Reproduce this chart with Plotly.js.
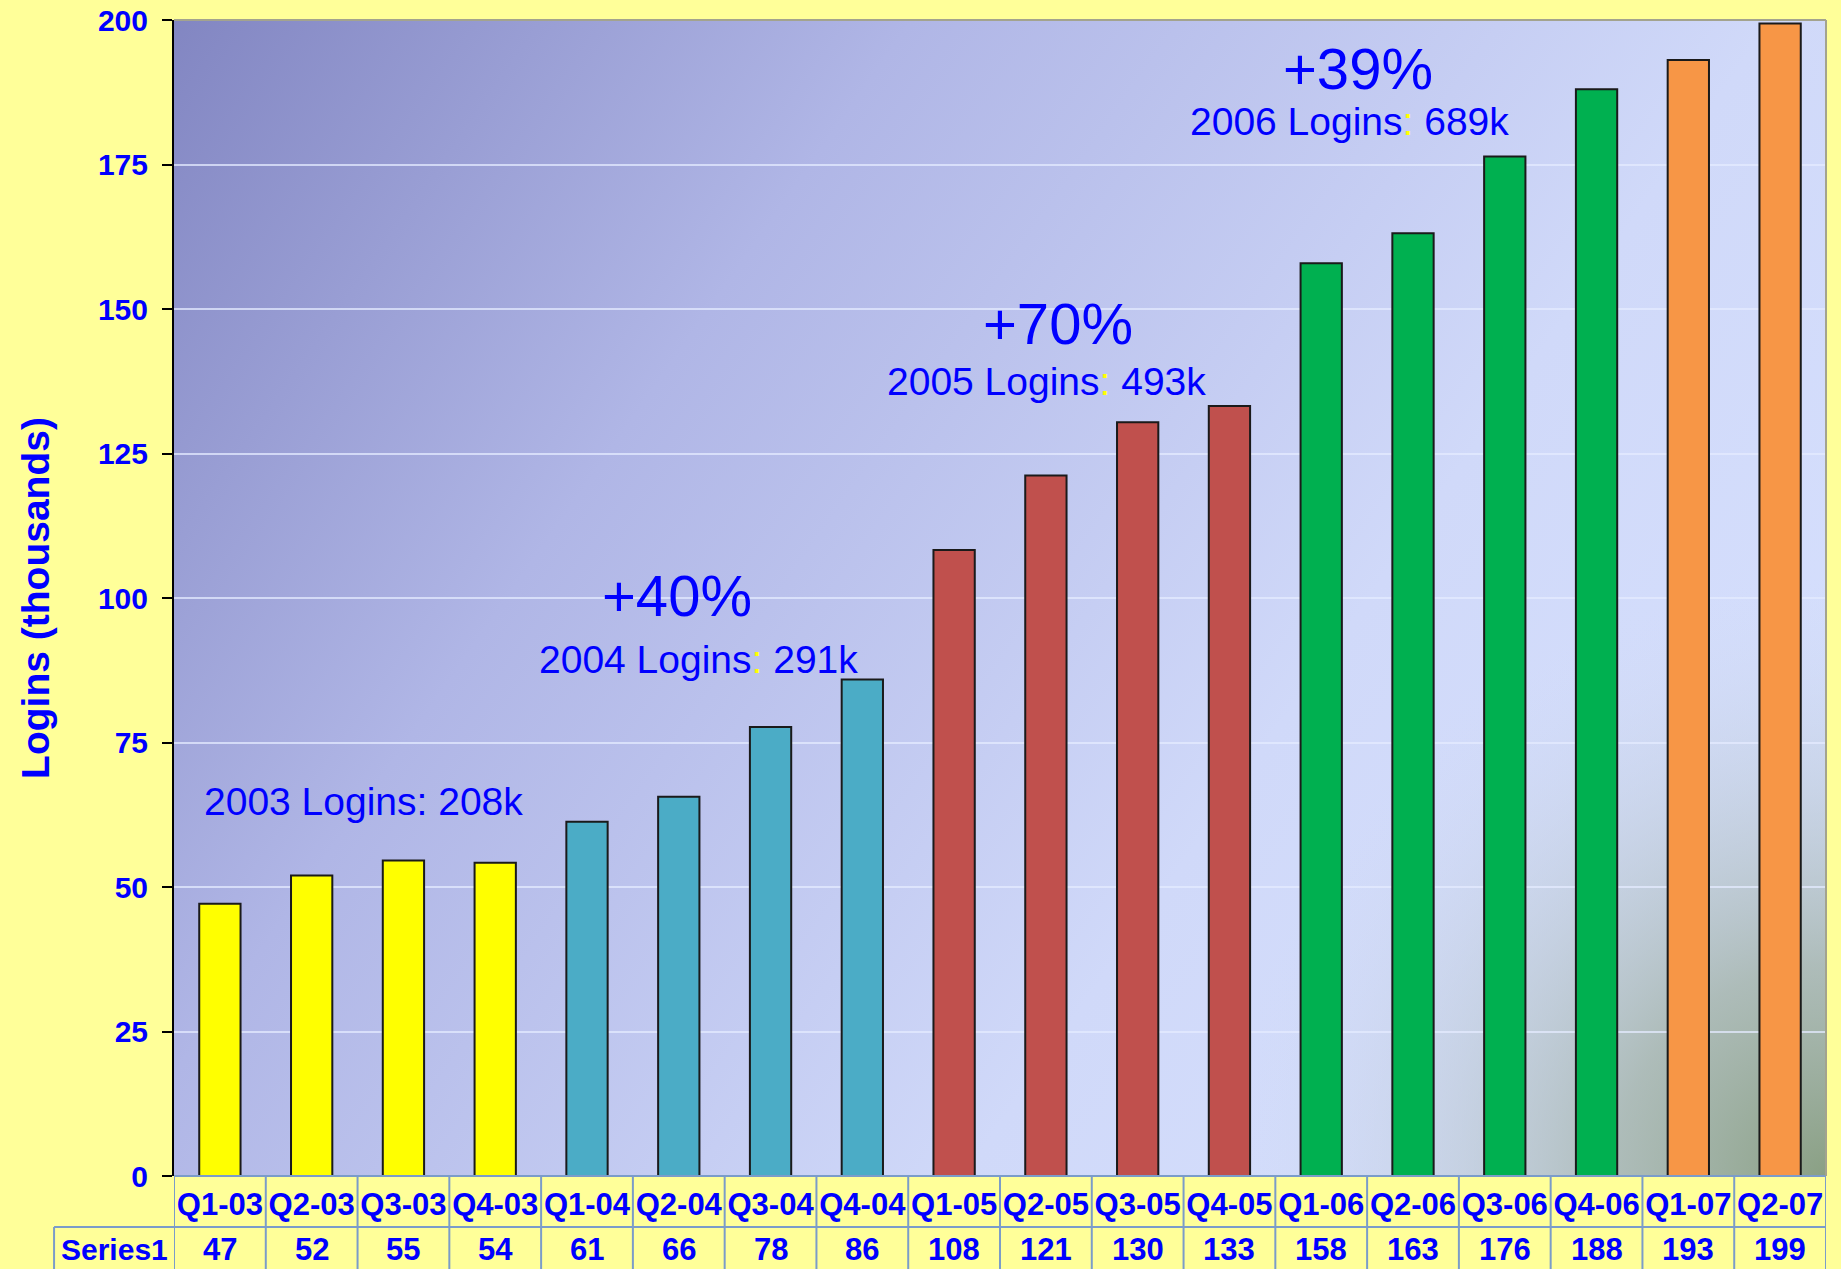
<!DOCTYPE html>
<html>
<head>
<meta charset="utf-8">
<script src="https://cdn.plot.ly/plotly-3.0.1.min.js"></script>
<style>
  html, body { margin: 0; padding: 0; background: #FFFF99; }
  #chart { width: 1841px; height: 1269px; }
</style>
</head>
<body>
<div id="chart"></div>
<script>
// ---------------- DATA ----------------
const categories = ['Q1-03','Q2-03','Q3-03','Q4-03','Q1-04','Q2-04','Q3-04','Q4-04',
                    'Q1-05','Q2-05','Q3-05','Q4-05','Q1-06','Q2-06','Q3-06','Q4-06',
                    'Q1-07','Q2-07'];
const logins = [47.1, 52.0, 54.6, 54.2, 61.3, 65.6, 77.7, 85.9,
                108.3, 121.2, 130.4, 133.2, 157.9, 163.1, 176.4, 188.0,
                193.1, 199.4];
const tableValues = [47, 52, 55, 54, 61, 66, 78, 86, 108, 121, 130, 133, 158, 163, 176, 188, 193, 199];
const barYears = ['2003','2003','2003','2003','2004','2004','2004','2004',
                  '2005','2005','2005','2005','2006','2006','2006','2006',
                  '2007','2007'];
const seriesName = 'Series1';
const noteYears = ['2003', '2004', '2005', '2006'];
const noteTotals = ['208k', '291k', '493k', '689k'];
const noteGrowth = [null, '+40%', '+70%', '+39%'];
const yTicks = [0, 25, 50, 75, 100, 125, 150, 175, 200];

// ---------------- STYLE ----------------
const yearColors = { '2003': '#FFFF00', '2004': '#4BACC6', '2005': '#C0504D', '2006': '#00B050', '2007': '#F79646' };
const FONT = 'Liberation Sans, Arial, sans-serif';
const BLUE = '#0000FF';
const BORDER = '#7B9CC9';

function makeBg() {
  const W = 1652, H = 1156;
  const c = document.createElement('canvas');
  c.width = W; c.height = H;
  const g = c.getContext('2d');
  const lin = g.createLinearGradient(0, 0, W, H);
  lin.addColorStop(0, '#8286C2');
  lin.addColorStop(0.3, '#B0B6E6');
  lin.addColorStop(0.65, '#D0D9F9');
  lin.addColorStop(1, '#D8E2FF');
  g.fillStyle = lin;
  g.fillRect(0, 0, W, H);
  const rad = g.createRadialGradient(W, H, 0, W, H, 600);
  rad.addColorStop(0, 'rgba(138,160,132,1)');
  rad.addColorStop(0.35, 'rgba(162,178,166,0.78)');
  rad.addColorStop(1, 'rgba(210,220,245,0)');
  g.fillStyle = rad;
  g.fillRect(0, 0, W, H);
  return c.toDataURL('image/png');
}

const trace = {
  type: 'bar',
  x: categories,
  y: logins,
  name: seriesName,
  marker: {
    color: barYears.map(y => yearColors[y]),
    line: { color: '#1a1a1a', width: 2 }
  },
  hoverinfo: 'x+y'
};

// table geometry (paper coordinates)
const row1Bottom = -0.0441;
const row2Bottom = -0.085;
const seriesLeft = -0.0726;

const shapes = [];
shapes.push({ type: 'line', xref: 'paper', yref: 'paper', x0: 0, x1: 1, y0: 0, y1: 0, line: { color: BORDER, width: 2 } });
shapes.push({ type: 'line', xref: 'paper', yref: 'paper', x0: seriesLeft, x1: 1, y0: row1Bottom, y1: row1Bottom, line: { color: BORDER, width: 2 } });
for (let i = 0; i <= categories.length; i++) {
  shapes.push({ type: 'line', xref: 'x', yref: 'paper', x0: i - 0.5, x1: i - 0.5, y0: 0, y1: row2Bottom, line: { color: BORDER, width: 2 } });
}
shapes.push({ type: 'line', xref: 'paper', yref: 'paper', x0: seriesLeft, x1: seriesLeft, y0: row1Bottom, y1: row2Bottom, line: { color: BORDER, width: 2 } });
shapes.push({ type: 'line', xref: 'paper', yref: 'paper', x0: 0, x1: 1, y0: 1, y1: 1, line: { color: '#A3A38E', width: 2 } });
shapes.push({ type: 'line', xref: 'paper', yref: 'paper', x0: 1, x1: 1, y0: 0, y1: 1, line: { color: '#A3A38E', width: 2 } });

const annotations = [];
categories.forEach((c, i) => {
  annotations.push({
    xref: 'x', yref: 'paper', x: c, y: (row1Bottom + row2Bottom) / 2 + 0.001,
    text: String(tableValues[i]), showarrow: false, xanchor: 'center', yanchor: 'middle',
    font: { family: FONT, size: 31, color: BLUE, weight: 'bold' }
  });
});
annotations.push({
  xref: 'paper', yref: 'paper', x: (seriesLeft + 0) / 2, y: (row1Bottom + row2Bottom) / 2 + 0.001,
  text: seriesName, showarrow: false, xanchor: 'center', yanchor: 'middle',
  font: { family: FONT, size: 30, color: BLUE, weight: 'bold' }
});

const notePos = [
  { x: 1.57, y: 64.8, gx: null, gy: null },
  { x: 5.22, y: 89.4, gx: 4.98, gy: 100.4 },
  { x: 9.01, y: 137.4, gx: 9.13, gy: 147.5 },
  { x: 12.31, y: 182.5, gx: 12.40, gy: 191.6 }
];
noteYears.forEach((yr, k) => {
  const colon = k === 0 ? ':' : '<span style="color:#FFFF00">:</span>';
  annotations.push({
    xref: 'x', yref: 'y', x: notePos[k].x, y: notePos[k].y,
    text: yr + ' Logins' + colon + ' ' + noteTotals[k],
    showarrow: false, xanchor: 'center', yanchor: 'middle',
    font: { family: FONT, size: 39, color: BLUE }
  });
  if (noteGrowth[k]) {
    annotations.push({
      xref: 'x', yref: 'y', x: notePos[k].gx, y: notePos[k].gy,
      text: noteGrowth[k], showarrow: false, xanchor: 'center', yanchor: 'middle',
      font: { family: FONT, size: 58, color: BLUE }
    });
  }
});

const layout = {
  width: 1841,
  height: 1269,
  autosize: false,
  margin: { l: 174, r: 15, t: 20, b: 93, pad: 0 },
  paper_bgcolor: '#FFFF99',
  plot_bgcolor: 'rgba(0,0,0,0)',
  showlegend: false,
  bargap: 0.55,
  font: { family: FONT, color: BLUE },
  xaxis: {
    type: 'category',
    range: [-0.5, categories.length - 0.5],
    showgrid: false,
    zeroline: false,
    showline: false,
    ticks: '',
    ticklabelstandoff: 7,
    tickfont: { family: FONT, size: 31, color: BLUE, weight: 'bold' },
    fixedrange: true
  },
  yaxis: {
    range: [0, 200],
    tickvals: yTicks,
    ticktext: yTicks.map(String),
    showgrid: true,
    gridcolor: 'rgba(228,235,255,0.75)',
    gridwidth: 2,
    zeroline: false,
    showline: true,
    linecolor: '#000000',
    linewidth: 2,
    ticks: 'outside',
    ticklen: 10,
    tickwidth: 2,
    tickcolor: '#000000',
    ticklabelstandoff: 8,
    tickfont: { family: FONT, size: 30, color: BLUE, weight: 'bold' },
    title: {
      text: 'Logins (thousands)',
      font: { family: FONT, size: 39, color: BLUE, weight: 'bold' },
      standoff: 36
    },
    fixedrange: true
  },
  images: [{
    source: makeBg(),
    xref: 'paper', yref: 'paper',
    x: 0, y: 1, sizex: 1, sizey: 1,
    xanchor: 'left', yanchor: 'top',
    sizing: 'stretch',
    layer: 'below'
  }],
  shapes: shapes,
  annotations: annotations
};

Plotly.newPlot('chart', [trace], layout, { displayModeBar: false, staticPlot: true });
</script>
</body>
</html>
